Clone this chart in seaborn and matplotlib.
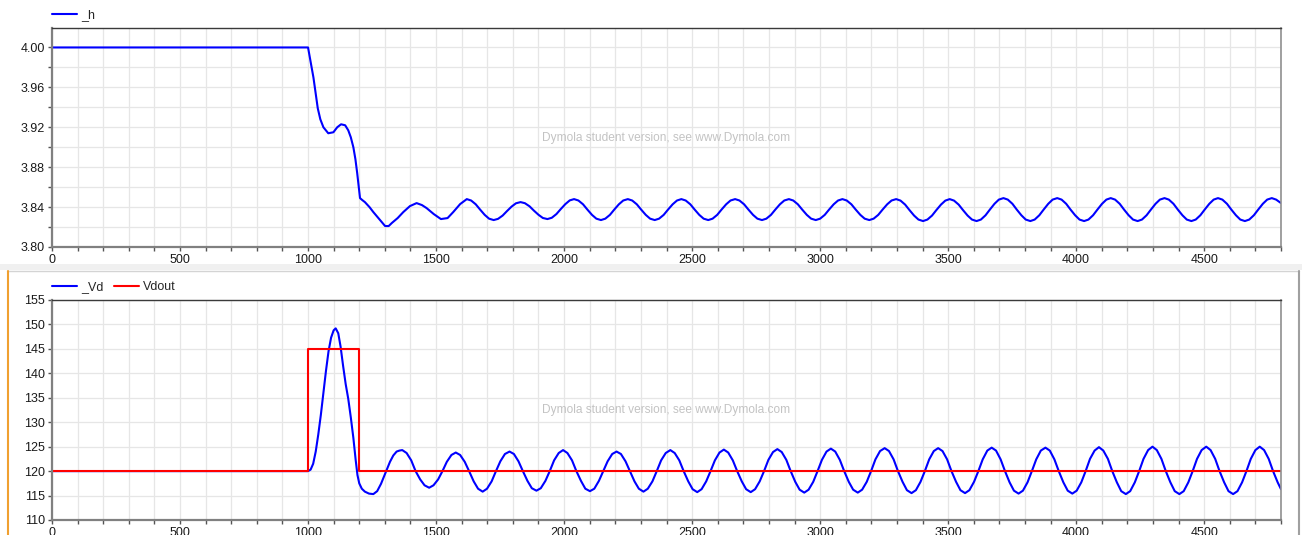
import matplotlib
matplotlib.use("Agg")
import matplotlib.pyplot as plt
import seaborn as sns
from matplotlib.ticker import MultipleLocator, FormatStrFormatter
from matplotlib.patches import Rectangle
from matplotlib.lines import Line2D

# ---- data ----
t_h = [
    0, 1000, 1021, 1038, 1048, 1060, 1079, 1099, 1114, 1129, 1145, 1157, 1167,
    1177, 1185, 1192, 1203, 1212, 1222, 1240, 1255, 1268, 1281, 1301, 1315, 1327,
    1350, 1372, 1398, 1424, 1445, 1463, 1491, 1519, 1545, 1567, 1594,
    1620, 1637, 1655, 1672, 1690, 1707, 1725, 1742, 1760, 1777, 1795, 1812,
    1830, 1847, 1865, 1882, 1900, 1917, 1935, 1952, 1970, 1987, 2005, 2022,
    2039, 2056, 2074, 2091, 2109, 2126, 2144, 2161, 2179, 2196, 2214, 2231,
    2249, 2266, 2284, 2301, 2319, 2336, 2354, 2371, 2389, 2406, 2424, 2441,
    2458, 2475, 2493, 2510, 2528, 2545, 2563, 2580, 2598, 2615, 2633, 2650,
    2668, 2685, 2703, 2720, 2738, 2755, 2773, 2790, 2808, 2825, 2843, 2860,
    2878, 2895, 2913, 2930, 2948, 2965, 2983, 3000, 3018, 3035, 3053, 3070,
    3087, 3104, 3122, 3139, 3157, 3174, 3192, 3209, 3227, 3244, 3262, 3279,
    3297, 3314, 3332, 3349, 3367, 3384, 3402, 3419, 3437, 3454, 3472, 3489,
    3506, 3523, 3541, 3558, 3576, 3593, 3611, 3628, 3646, 3663, 3681, 3698,
    3716, 3733, 3751, 3768, 3786, 3803, 3821, 3838, 3856, 3873, 3891, 3908,
    3926, 3943, 3961, 3978, 3996, 4013, 4031, 4048, 4066, 4083, 4101, 4118,
    4135, 4152, 4170, 4187, 4205, 4222, 4240, 4257, 4275, 4292, 4310, 4327,
    4345, 4362, 4380, 4397, 4415, 4432, 4450, 4467, 4485, 4502, 4520, 4537,
    4554, 4571, 4589, 4606, 4624, 4641, 4659, 4676, 4694, 4711, 4729, 4746,
    4764, 4781, 4800,
]
h = [
    4.000, 4.000, 3.970, 3.939, 3.928, 3.920, 3.914, 3.915, 3.920, 3.923, 3.922, 3.917, 3.910,
    3.900, 3.888, 3.874, 3.849, 3.847, 3.845, 3.840, 3.835, 3.831, 3.827, 3.821, 3.821, 3.824,
    3.829, 3.835, 3.841, 3.844, 3.842, 3.839, 3.833, 3.828, 3.829, 3.835, 3.843,
    3.8480, 3.8466, 3.8428, 3.8375, 3.8322, 3.8284, 3.8270, 3.8282, 3.8315, 3.8360, 3.8405, 3.8438,
    3.8450, 3.8439, 3.8408, 3.8365, 3.8323, 3.8291, 3.8280, 3.8293, 3.8330, 3.8380, 3.8430, 3.8467,
    3.8480, 3.8466, 3.8428, 3.8375, 3.8322, 3.8284, 3.8270, 3.8284, 3.8322, 3.8375, 3.8428, 3.8466,
    3.8480, 3.8466, 3.8428, 3.8375, 3.8322, 3.8284, 3.8270, 3.8284, 3.8322, 3.8375, 3.8428, 3.8466,
    3.8480, 3.8466, 3.8428, 3.8375, 3.8322, 3.8284, 3.8270, 3.8284, 3.8322, 3.8375, 3.8428, 3.8466,
    3.8480, 3.8466, 3.8428, 3.8375, 3.8322, 3.8284, 3.8270, 3.8284, 3.8322, 3.8375, 3.8428, 3.8466,
    3.8480, 3.8466, 3.8428, 3.8375, 3.8322, 3.8284, 3.8270, 3.8284, 3.8322, 3.8375, 3.8428, 3.8466,
    3.8480, 3.8466, 3.8428, 3.8375, 3.8322, 3.8284, 3.8270, 3.8284, 3.8322, 3.8375, 3.8428, 3.8466,
    3.8480, 3.8465, 3.8425, 3.8370, 3.8315, 3.8275, 3.8260, 3.8275, 3.8315, 3.8370, 3.8425, 3.8465,
    3.8480, 3.8465, 3.8425, 3.8370, 3.8315, 3.8275, 3.8260, 3.8275, 3.8318, 3.8375, 3.8433, 3.8475,
    3.8490, 3.8475, 3.8433, 3.8375, 3.8318, 3.8275, 3.8260, 3.8275, 3.8318, 3.8375, 3.8433, 3.8475,
    3.8490, 3.8475, 3.8433, 3.8375, 3.8318, 3.8275, 3.8260, 3.8275, 3.8318, 3.8375, 3.8433, 3.8475,
    3.8490, 3.8475, 3.8433, 3.8375, 3.8318, 3.8275, 3.8260, 3.8275, 3.8318, 3.8375, 3.8433, 3.8475,
    3.8490, 3.8475, 3.8433, 3.8375, 3.8318, 3.8275, 3.8260, 3.8275, 3.8318, 3.8375, 3.8433, 3.8475,
    3.8490, 3.8475, 3.8433, 3.8375, 3.8318, 3.8275, 3.8260, 3.8275, 3.8318, 3.8375, 3.8433, 3.8475,
    3.8490, 3.8475, 3.8440,
]

t_vd = [
    0, 1000, 1010, 1020, 1030, 1040, 1050, 1060, 1070, 1080, 1090, 1100, 1108,
    1118, 1127, 1137, 1147, 1157, 1167, 1177, 1186, 1193, 1200, 1210, 1222,
    1238, 1255, 1270, 1285, 1296, 1307, 1320, 1333, 1346, 1357,
    1368, 1385, 1403, 1420, 1438, 1455, 1473, 1490, 1508, 1525, 1542, 1560,
    1577, 1594, 1612, 1629, 1647, 1664, 1682, 1699, 1717, 1734, 1751, 1769,
    1787, 1804, 1822, 1839, 1857, 1874, 1892, 1909, 1927, 1944, 1961, 1979,
    1996, 2013, 2031, 2048, 2066, 2083, 2101, 2118, 2136, 2153, 2170, 2188,
    2205, 2222, 2240, 2257, 2275, 2292, 2310, 2327, 2345, 2362, 2379, 2397,
    2415, 2432, 2450, 2467, 2485, 2502, 2520, 2537, 2555, 2572, 2589, 2607,
    2624, 2641, 2659, 2676, 2694, 2711, 2729, 2746, 2764, 2781, 2798, 2816,
    2833, 2850, 2868, 2885, 2903, 2920, 2938, 2955, 2973, 2990, 3007, 3025,
    3042, 3059, 3077, 3094, 3112, 3129, 3147, 3164, 3182, 3199, 3216, 3234,
    3252, 3269, 3287, 3304, 3322, 3339, 3357, 3374, 3392, 3409, 3426, 3444,
    3461, 3478, 3496, 3513, 3531, 3548, 3566, 3583, 3601, 3618, 3635, 3653,
    3670, 3687, 3705, 3722, 3740, 3757, 3775, 3792, 3810, 3827, 3844, 3862,
    3880, 3897, 3915, 3932, 3950, 3967, 3985, 4002, 4020, 4037, 4054, 4072,
    4089, 4106, 4124, 4141, 4159, 4176, 4194, 4211, 4229, 4246, 4263, 4281,
    4298, 4315, 4333, 4350, 4368, 4385, 4403, 4420, 4438, 4455, 4472, 4490,
    4508, 4525, 4543, 4560, 4578, 4595, 4613, 4630, 4648, 4665, 4682, 4700,
    4717, 4734, 4752, 4769, 4787, 4800,
]
vd = [
    120.0, 120.0, 120.3, 121.5, 124.0, 127.5, 131.5, 136.0, 140.5, 144.5, 147.3, 148.8, 149.2,
    148.2, 145.5, 141.5, 137.8, 134.8, 131.0, 126.8, 122.3, 119.2, 117.5, 116.4, 115.8,
    115.4, 115.3, 115.9, 117.4, 118.8, 120.2, 121.9, 123.2, 124.0, 124.2,
    124.3, 123.7, 122.2, 120.0, 118.3, 117.1, 116.6, 117.1, 118.3, 120.0, 121.9, 123.3,
    123.8, 123.3, 121.9, 120.0, 117.9, 116.4, 115.8, 116.4, 117.9, 120.0, 122.0, 123.5,
    124.0, 123.5, 122.0, 120.0, 118.0, 116.5, 116.0, 116.5, 118.0, 120.0, 122.2, 123.7,
    124.3, 123.7, 122.2, 120.0, 118.0, 116.4, 115.9, 116.4, 118.0, 120.0, 122.0, 123.5,
    124.0, 123.5, 122.0, 120.0, 117.9, 116.4, 115.8, 116.4, 117.9, 120.0, 122.2, 123.7,
    124.3, 123.7, 122.2, 120.0, 117.9, 116.3, 115.7, 116.3, 117.9, 120.0, 122.2, 123.8,
    124.4, 123.8, 122.2, 120.0, 117.9, 116.3, 115.7, 116.3, 117.9, 120.0, 122.3, 123.9,
    124.5, 123.9, 122.3, 120.0, 117.8, 116.2, 115.6, 116.2, 117.8, 120.0, 122.3, 124.0,
    124.6, 124.0, 122.3, 120.0, 117.8, 116.2, 115.6, 116.2, 117.8, 120.0, 122.4, 124.1,
    124.7, 124.1, 122.4, 120.0, 117.8, 116.1, 115.5, 116.1, 117.8, 120.0, 122.4, 124.1,
    124.7, 124.1, 122.4, 120.0, 117.8, 116.1, 115.5, 116.1, 117.8, 120.0, 122.4, 124.2,
    124.8, 124.2, 122.4, 120.0, 117.7, 116.0, 115.4, 116.0, 117.7, 120.0, 122.4, 124.2,
    124.8, 124.2, 122.4, 120.0, 117.7, 116.0, 115.4, 116.0, 117.7, 120.0, 122.5, 124.2,
    124.9, 124.2, 122.5, 120.0, 117.7, 115.9, 115.3, 115.9, 117.7, 120.0, 122.5, 124.3,
    125.0, 124.3, 122.5, 120.0, 117.7, 115.9, 115.3, 115.9, 117.7, 120.0, 122.5, 124.3,
    125.0, 124.3, 122.5, 120.0, 117.7, 115.9, 115.3, 115.9, 117.7, 120.0, 122.5, 124.3,
    125.0, 124.3, 122.5, 120.0, 117.7, 116.3,
]

t_vdout = [0, 1000, 1000, 1200, 1200, 4800]
vdout = [120, 120, 145, 145, 120, 120]

watermark = "Dymola student version, see www.Dymola.com"

# ---- style ----
sns.set_style("white")
plt.rcParams['font.family'] = ['Liberation Sans', 'DejaVu Sans']
FS = 9

W, H = 1302, 535
fig = plt.figure(figsize=(W / 100, H / 100), dpi=100)
ax1 = fig.add_axes([52 / W, 1 - 247 / H, 1229 / W, 219 / H])
ax2 = fig.add_axes([52 / W, 1 - 520 / H, 1229 / W, 220 / H])

# window chrome between/around the two plot panes
fig.patches.append(Rectangle((0, 1 - 270 / H), 1, 6 / H, transform=fig.transFigure,
                             facecolor='#f0f0f0', edgecolor='none', zorder=-5))
fig.lines.append(Line2D([7 / W, 1299 / W], [1 - 270.5 / H] * 2, transform=fig.transFigure,
                        color='#d4d4d4', lw=1.0, zorder=-4))
fig.lines.append(Line2D([7.5 / W] * 2, [0, 1 - 271 / H], transform=fig.transFigure,
                        color='#f0a030', lw=1.5, zorder=-4))
fig.lines.append(Line2D([1299 / W] * 2, [0, 1 - 271 / H], transform=fig.transFigure,
                        color='#a0a0a0', lw=1.5, zorder=-4))

# ---- top: _h ----
sns.lineplot(x=t_h, y=h, ax=ax1, color='#0000ff', lw=1.5, estimator=None, sort=False)
ax1.set_xlim(0, 4800)
ax1.set_ylim(3.80, 4.0195)
ax1.yaxis.set_major_locator(MultipleLocator(0.04))
ax1.yaxis.set_minor_locator(MultipleLocator(0.02))
ax1.yaxis.set_major_formatter(FormatStrFormatter('%.2f'))

# ---- bottom: _Vd and Vdout ----
sns.lineplot(x=t_vd, y=vd, ax=ax2, color='#0000ff', lw=1.5, estimator=None, sort=False)
sns.lineplot(x=t_vdout, y=vdout, ax=ax2, color='#ff0000', lw=1.5, estimator=None, sort=False)
ax2.set_xlim(0, 4800)
ax2.set_ylim(110, 155)
ax2.yaxis.set_major_locator(MultipleLocator(5))

for ax in (ax1, ax2):
    ax.xaxis.set_major_locator(MultipleLocator(500))
    ax.xaxis.set_minor_locator(MultipleLocator(100))
    ax.set_axisbelow(True)
    ax.grid(which='both', color='#e6e6e6', lw=0.9)
    ax.tick_params(which='both', direction='out', length=3, width=1, color='#555555',
                   labelsize=FS, labelcolor='#1a1a1a', pad=2,
                   bottom=True, left=True)
    ax.spines['left'].set_color('#808080')
    ax.spines['left'].set_linewidth(1.6)
    ax.spines['bottom'].set_color('#808080')
    ax.spines['bottom'].set_linewidth(1.6)
    ax.spines['top'].set_color('#3a3a3a')
    ax.spines['top'].set_linewidth(1.0)
    ax.spines['right'].set_color('#909090')
    ax.spines['right'].set_linewidth(1.2)
    ax.set_xlabel('')
    ax.set_ylabel('')
    ax.text(0.5, 0.5, watermark, transform=ax.transAxes, ha='center', va='center',
            color='#c3c3c3', fontsize=8.6)

leg_kw = dict(loc='lower left', bbox_to_anchor=(0, 1.03), frameon=False, borderpad=0,
              borderaxespad=0, handlelength=2.0, handletextpad=0.3, columnspacing=0.85,
              fontsize=FS, ncol=2)
ax1.legend(handles=[ax1.lines[0]], labels=['_h'], **leg_kw)
ax2.legend(handles=[ax2.lines[0], ax2.lines[1]], labels=['_Vd', 'Vdout'], **leg_kw)

fig.savefig('out.png', dpi=100)
